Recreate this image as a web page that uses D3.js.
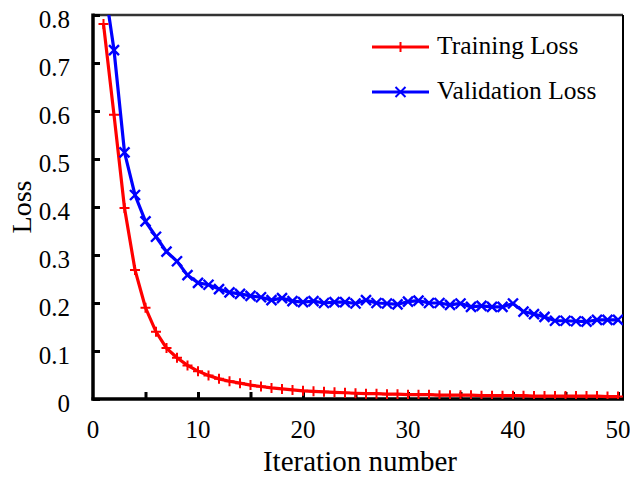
<!DOCTYPE html>
<html>
<head>
<meta charset="utf-8">
<script src="https://cdn.jsdelivr.net/npm/d3@7"></script>
<style>
  body { margin: 0; background: #fff; }
  text { font-family: "Liberation Serif", "Times New Roman", serif; fill: #000; }
</style>
</head>
<body>
<script>
// data
const iterations = d3.range(1, 51);
const trainingLoss = [
  0.781, 0.592, 0.398, 0.269, 0.190, 0.140, 0.106, 0.086, 0.070, 0.058,
  0.049, 0.042, 0.037, 0.033, 0.029, 0.026, 0.023, 0.021, 0.019, 0.017,
  0.016, 0.015, 0.014, 0.013, 0.012, 0.011, 0.011, 0.010, 0.010, 0.009,
  0.009, 0.009, 0.008, 0.008, 0.008, 0.008, 0.007, 0.007, 0.007, 0.007,
  0.007, 0.006, 0.006, 0.006, 0.006, 0.006, 0.006, 0.006, 0.005, 0.005
];
const validationLoss = [
  0.876, 0.727, 0.514, 0.425, 0.370, 0.338, 0.307, 0.287, 0.258, 0.242,
  0.238, 0.229, 0.222, 0.219, 0.215, 0.212, 0.206, 0.210, 0.204, 0.202,
  0.204, 0.200, 0.202, 0.202, 0.199, 0.206, 0.200, 0.199, 0.197, 0.203,
  0.205, 0.200, 0.200, 0.196, 0.199, 0.192, 0.194, 0.192, 0.192, 0.199,
  0.182, 0.177, 0.171, 0.163, 0.163, 0.162, 0.161, 0.165, 0.165, 0.165
];
const xTicks = [0, 10, 20, 30, 40, 50];
const xMinorTicks = d3.range(5, 51, 5);
const yTicks = [0, 0.1, 0.2, 0.3, 0.4, 0.5, 0.6, 0.7, 0.8];
const seriesNames = ["Training Loss", "Validation Loss"];

const width = 630, height = 479;
const margin = { top: 15, right: 7, bottom: 80, left: 93 };
const innerW = width - margin.left - margin.right;
const innerH = height - margin.top - margin.bottom;

const svg = d3.select("body").append("svg")
  .attr("width", width).attr("height", height);

const x = d3.scaleLinear().domain([0, 50 * innerW / 525]).range([0, innerW]);
const y = d3.scaleLinear().domain([0, 0.8]).range([innerH, 0]);

const g = svg.append("g").attr("transform", `translate(${margin.left},${margin.top})`);

// clip so the curve leaving the top is cut off
svg.append("defs").append("clipPath").attr("id", "clip")
  .append("rect").attr("width", innerW).attr("height", innerH);

// top and right frame
g.append("line").attr("x1", 0).attr("x2", innerW).attr("y1", 0).attr("y2", 0)
  .attr("stroke", "#333").attr("stroke-width", 2.5);
g.append("line").attr("x1", innerW).attr("x2", innerW).attr("y1", 0).attr("y2", innerH)
  .attr("stroke", "#000").attr("stroke-width", 2);

// y axis, ticks pointing inward
const yAxis = g.append("g")
  .call(d3.axisRight(y).tickValues(yTicks).tickSize(7).tickFormat(d => d === 0 ? "0" : d3.format(".1f")(d)));
yAxis.select(".domain").remove();
yAxis.selectAll(".tick line").attr("stroke-width", 3);
yAxis.selectAll(".tick text")
  .attr("x", -23).attr("dy", "0.5em").attr("text-anchor", "end")
  .style("font-size", "25px");
g.append("line").attr("x1", 0).attr("x2", 0).attr("y1", -1.5).attr("y2", innerH + 1.5)
  .attr("stroke", "#000").attr("stroke-width", 3.5);

// x axis, ticks pointing inward every 5
const xAxis = g.append("g").attr("transform", `translate(0,${innerH})`)
  .call(d3.axisTop(x).tickValues(xMinorTicks).tickSize(7).tickFormat(""));
xAxis.select(".domain").remove();
xAxis.selectAll(".tick line").attr("stroke-width", 3);
g.append("g").selectAll("text").data(xTicks).join("text")
  .attr("x", d => x(d)).attr("y", innerH + 39)
  .attr("text-anchor", "middle").style("font-size", "25px")
  .text(d => d);
g.append("line").attr("x1", -1.5).attr("x2", innerW + 1).attr("y1", innerH).attr("y2", innerH)
  .attr("stroke", "#000").attr("stroke-width", 3.5);

// axis titles
svg.append("text").attr("x", 360).attr("y", 471)
  .attr("text-anchor", "middle").style("font-size", "29px").text("Iteration number");
svg.append("text").attr("transform", "translate(31,207) rotate(-90)")
  .attr("text-anchor", "middle").style("font-size", "28px").text("Loss");

// lines and markers
const line = d3.line().x((d, i) => x(iterations[i])).y(d => y(d));
const plot = g.append("g").attr("clip-path", "url(#clip)");

plot.append("path").datum(trainingLoss)
  .attr("fill", "none").attr("stroke", "#ff0000").attr("stroke-width", 3.2).attr("d", line);
plot.append("path").datum(validationLoss)
  .attr("fill", "none").attr("stroke", "#0000ff").attr("stroke-width", 3.2).attr("d", line);

const plusPath = "M-5,0H5M0,-5V5";
const crossPath = "M-5,-5L5,5M-5,5L5,-5";

plot.selectAll(".tm").data(trainingLoss).join("path").attr("class", "tm")
  .attr("transform", (d, i) => `translate(${x(iterations[i])},${y(d)})`)
  .attr("d", plusPath).attr("stroke", "#ff0000").attr("stroke-width", 2);
plot.selectAll(".vm").data(validationLoss).join("path").attr("class", "vm")
  .attr("transform", (d, i) => `translate(${x(iterations[i])},${y(d)})`)
  .attr("d", crossPath).attr("stroke", "#0000ff").attr("stroke-width", 2.4);

// legend
const legend = svg.append("g");
const legendItems = [
  { name: seriesNames[0], color: "#ff0000", marker: plusPath, y: 47 },
  { name: seriesNames[1], color: "#0000ff", marker: crossPath, y: 92 }
];
legendItems.forEach(it => {
  legend.append("line").attr("x1", 372).attr("x2", 429).attr("y1", it.y).attr("y2", it.y)
    .attr("stroke", it.color).attr("stroke-width", 3);
  legend.append("path").attr("transform", `translate(400.5,${it.y})`)
    .attr("d", it.marker).attr("stroke", it.color).attr("stroke-width", 2);
  legend.append("text").attr("x", 437).attr("y", it.y + 7)
    .style("font-size", "25.5px").text(it.name);
});
</script>
</body>
</html>
